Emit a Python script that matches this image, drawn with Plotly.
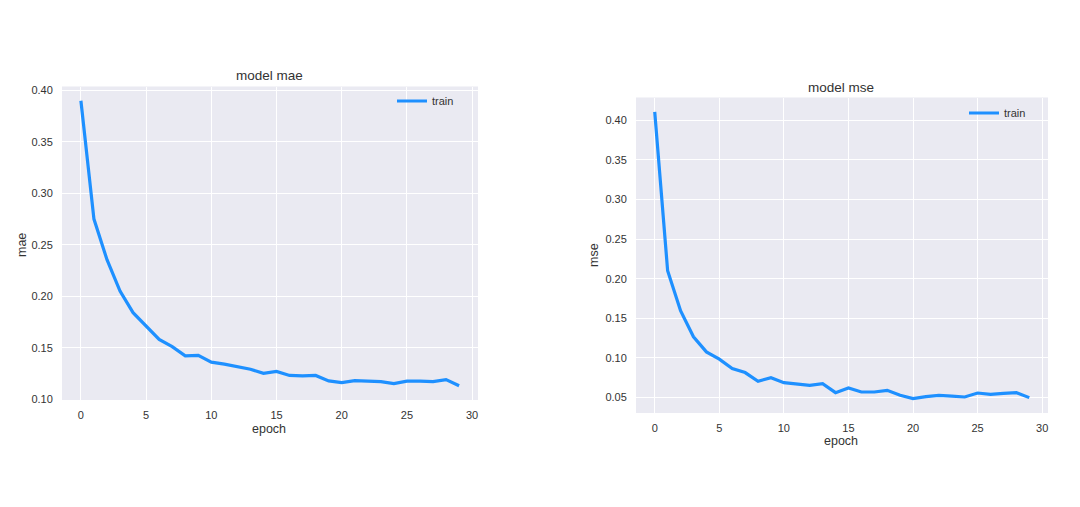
import plotly.graph_objects as go

epochs = list(range(30))
mae_train = [0.390, 0.275, 0.2355, 0.205, 0.184, 0.171, 0.158, 0.151, 0.142, 0.1426,
             0.136, 0.134, 0.1316, 0.129, 0.125, 0.127, 0.123, 0.1226, 0.123, 0.1177,
             0.116, 0.118, 0.1174, 0.117, 0.115, 0.1174, 0.1174, 0.117, 0.119, 0.113]
mse_train = [0.4105, 0.210, 0.1596, 0.1267, 0.1077, 0.0985, 0.0866, 0.0816, 0.0706, 0.0752,
             0.0689, 0.0668, 0.0655, 0.0677, 0.0563, 0.0622, 0.0571, 0.0571, 0.0592, 0.0529,
             0.0487, 0.0512, 0.0529, 0.052, 0.0508, 0.0558, 0.0541, 0.0554, 0.0563, 0.050]
x_ticks = [0, 5, 10, 15, 20, 25, 30]
mae_ticks = [0.10, 0.15, 0.20, 0.25, 0.30, 0.35, 0.40]
mse_ticks = [0.05, 0.10, 0.15, 0.20, 0.25, 0.30, 0.35, 0.40]

W, H = 1080, 507
OFF = 8  # page body margin
BLUE = "#1E90FF"
TXT = "#333333"
FONT = "Liberation Sans, Arial, sans-serif"

fig = go.Figure()
fig.add_trace(go.Scatter(x=epochs, y=mae_train, mode="lines", name="train",
                         line=dict(color=BLUE, width=3.2), xaxis="x", yaxis="y",
                         legend="legend"))
fig.add_trace(go.Scatter(x=epochs, y=mse_train, mode="lines", name="train",
                         line=dict(color=BLUE, width=3.2), xaxis="x2", yaxis="y2",
                         legend="legend2"))

def rng(vals, m=0.05):
    lo, hi = min(vals), max(vals)
    d = hi - lo
    return [lo - m * d, hi + m * d]

axis_common = dict(showgrid=True, gridcolor="white", gridwidth=1, zeroline=False,
                   showline=False, ticks="outside", ticklen=0, automargin=False,
                   tickfont=dict(family=FONT, size=11, color=TXT))

def px_x(p):
    return (p - OFF) / W

def px_y(p):
    return 1 - (p - OFF) / H

fig.update_layout(
    template="none",
    width=W, height=H,
    margin=dict(l=0, r=0, t=0, b=0, autoexpand=False),
    paper_bgcolor="white",
    plot_bgcolor="#EAEAF2",
    showlegend=True,
    xaxis=dict(domain=[px_x(62), px_x(478)], range=rng(epochs), tickvals=x_ticks,
               anchor="y", ticklabelstandoff=5, **axis_common),
    yaxis=dict(domain=[px_y(400), px_y(86.5)], range=rng(mae_train), tickvals=mae_ticks,
               tickformat=".2f", anchor="x", ticklabelstandoff=6, **axis_common),
    xaxis2=dict(domain=[px_x(636), px_x(1048)], range=rng(epochs), tickvals=x_ticks,
                anchor="y2", ticklabelstandoff=5, **axis_common),
    yaxis2=dict(domain=[px_y(413), px_y(97.5)], range=rng(mse_train), tickvals=mse_ticks,
                tickformat=".2f", anchor="x2", ticklabelstandoff=6, **axis_common),
    legend=dict(x=px_x(459), y=px_y(101), xanchor="right", yanchor="middle",
                bgcolor="rgba(0,0,0,0)", borderwidth=0,
                font=dict(family=FONT, size=11, color=TXT)),
    legend2=dict(x=px_x(1031), y=px_y(113), xanchor="right", yanchor="middle",
                 bgcolor="rgba(0,0,0,0)", borderwidth=0,
                 font=dict(family=FONT, size=11, color=TXT)),
)

ann = []
def txt(x, y, s, size=12.5, angle=0):
    ann.append(dict(x=px_x(x), y=px_y(y), xref="paper", yref="paper", text=s,
                    showarrow=False, textangle=angle, xanchor="center", yanchor="middle",
                    font=dict(family=FONT, size=size, color=TXT)))

txt(269, 75, "model mae", size=13.5)
txt(841, 87, "model mse", size=13.5)
txt(269, 429, "epoch")
txt(841, 441, "epoch")
txt(22, 245, "mae", angle=-90)
txt(594, 255, "mse", angle=-90)
fig.update_layout(annotations=ann)

fig.write_html("out.html")
